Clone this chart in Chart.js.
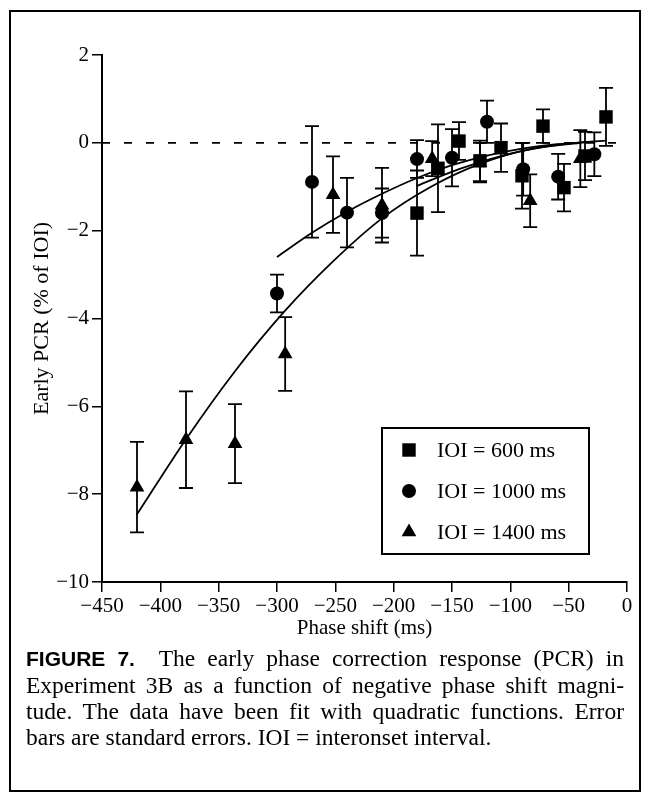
<!DOCTYPE html>
<html>
<head>
<meta charset="utf-8">
<script src="https://cdn.jsdelivr.net/npm/chart.js@4.4.0/dist/chart.umd.min.js"></script>
<style>
  html, body { margin: 0; padding: 0; background: #fff; }
  #frame { position: absolute; left: 9px; top: 10px; width: 628px; height: 778px; border: 2px solid #000; }
  #plot { position: absolute; left: 0; top: 0; }
  #caption { position: absolute; left: 26px; top: 645px; width: 598px; font-family: "Liberation Serif", serif; font-size: 23.5px; line-height: 26px; color: #000; }
  #caption div { text-align: justify; text-align-last: justify; white-space: nowrap; }
  #caption div.last { text-align-last: left; }
  #caption b { font-family: "Liberation Sans", Arial, sans-serif; font-size: 21px; }
</style>
</head>
<body>
<div id="frame"></div>
<canvas id="plot" width="649" height="650"></canvas>
<div id="caption">
  <div><b>FIGURE 7.</b>&nbsp; The early phase correction response (PCR) in</div>
  <div>Experiment 3B as a function of negative phase shift magni-</div>
  <div>tude. The data have been fit with quadratic functions. Error</div>
  <div class="last">bars are standard errors. IOI = interonset interval.</div>
</div>
<script>
// --- Data ---
const seriesLabels = ["IOI = 600 ms", "IOI = 1000 ms", "IOI = 1400 ms"];

const ioi600X = [-180, -162, -144, -126, -108, -90, -72, -54, -36, -18];
const ioi600Y = [-1.60, -0.58, 0.04, -0.41, -0.11, -0.75, 0.38, -1.02, -0.30, 0.59];
const ioi600Err = [0.97, 1.00, 0.43, 0.46, 0.55, 0.75, 0.38, 0.54, 0.55, 0.66];

const ioi1000X = [-300, -270, -240, -210, -180, -150, -120, -89, -59, -28];
const ioi1000Y = [-3.43, -0.89, -1.59, -1.60, -0.37, -0.34, 0.48, -0.60, -0.77, -0.26];
const ioi1000Err = [0.43, 1.27, 0.79, 0.56, 0.43, 0.65, 0.48, 0.60, 0.52, 0.50];

const ioi1400X = [-420, -378, -336, -293, -252, -210, -167, -126, -83, -40];
const ioi1400Y = [-7.84, -6.76, -6.85, -4.81, -1.18, -1.42, -0.36, -0.45, -1.32, -0.36];
const ioi1400Err = [1.03, 1.10, 0.90, 0.84, 0.87, 0.85, 0.40, 0.45, 0.60, 0.65];

// fitted quadratic curves
const fit600X = [-180, -144, -108, -72, -36, -18];
const fit600Y = [-0.98, -0.60, -0.30, -0.10, 0.02, 0.05];
const fit1000X = [-300, -270, -240, -210, -180, -150, -120, -90, -60, -28];
const fit1000Y = [-2.60, -2.05, -1.57, -1.16, -0.80, -0.51, -0.29, -0.13, -0.03, 0.02];
const fit1400X = [-420, -378, -336, -294, -252, -210, -168, -126, -84, -40];
const fit1400Y = [-8.46, -6.75, -5.20, -3.85, -2.70, -1.72, -1.00, -0.48, -0.15, 0.00];

const zeroLineX = [-450, 0];
const zeroLineY = [0, 0];

const xTickValues = [-450, -400, -350, -300, -250, -200, -150, -100, -50, 0];
const yTickValues = [-10, -8, -6, -4, -2, 0, 2];

// --- helpers ---
const toPoints = (xs, ys) => xs.map((x, i) => ({ x: x, y: ys[i] }));
const minus = v => (v < 0 ? "\u2212" + Math.abs(v) : String(v));

Chart.defaults.color = "#000";
Chart.defaults.font.family = "'Liberation Serif', 'Times New Roman', serif";

// error bars go under the markers
const errorBarPlugin = {
    id: "errorBars",
    beforeDatasetsDraw(chart) {
        const ctx = chart.ctx;
        const yScale = chart.scales.y;
        ctx.save();
        ctx.strokeStyle = "#000";
        ctx.lineWidth = 1.8;
        chart.data.datasets.forEach((ds, i) => {
            if (!ds.errors) return;
            const meta = chart.getDatasetMeta(i);
            meta.data.forEach((pt, j) => {
                const v = ds.data[j].y, e = ds.errors[j];
                const top = yScale.getPixelForValue(v + e);
                const bot = yScale.getPixelForValue(v - e);
                ctx.beginPath();
                ctx.moveTo(pt.x, top); ctx.lineTo(pt.x, bot);
                ctx.moveTo(pt.x - 7, top); ctx.lineTo(pt.x + 7, top);
                ctx.moveTo(pt.x - 7, bot); ctx.lineTo(pt.x + 7, bot);
                ctx.stroke();
            });
        });
        ctx.restore();
    }
};

// boxed legend inside the plot area
const boxLegendPlugin = {
    id: "boxLegend",
    afterDraw(chart) {
        const ctx = chart.ctx;
        const a = chart.chartArea;
        const bx = a.left + 280, by = 428, bw = 207, bh = 126;
        ctx.save();
        ctx.fillStyle = "#fff";
        ctx.fillRect(bx, by, bw, bh);
        ctx.strokeStyle = "#000";
        ctx.lineWidth = 2;
        ctx.strokeRect(bx, by, bw, bh);
        ctx.fillStyle = "#000";
        ctx.font = "22px 'Liberation Serif', serif";
        ctx.textBaseline = "middle";
        seriesLabels.forEach((label, k) => {
            const ds = chart.data.datasets[k];
            const cy = by + 22 + k * 41;
            Chart.helpers.drawPoint(ctx, { pointStyle: ds.pointStyle, radius: ds.pointRadius, rotation: 0, borderWidth: 0 }, bx + 27, cy);
            ctx.fillText(label, bx + 55, cy + 1);
        });
        ctx.restore();
    }
};

const markerCommon = { showLine: false, backgroundColor: "#000", borderColor: "#000", borderWidth: 0 };
const fitCommon = { showLine: true, pointRadius: 0, borderColor: "#000", borderWidth: 1.8, cubicInterpolationMode: "monotone", fill: false };

new Chart(document.getElementById("plot"), {
    type: "scatter",
    data: {
        datasets: [
            { ...markerCommon, label: seriesLabels[0], data: toPoints(ioi600X, ioi600Y), errors: ioi600Err, pointStyle: "rect", pointRadius: 9.5 },
            { ...markerCommon, label: seriesLabels[1], data: toPoints(ioi1000X, ioi1000Y), errors: ioi1000Err, pointStyle: "circle", pointRadius: 7 },
            { ...markerCommon, label: seriesLabels[2], data: toPoints(ioi1400X, ioi1400Y), errors: ioi1400Err, pointStyle: "triangle", pointRadius: 8.5 },
            { ...fitCommon, data: toPoints(fit600X, fit600Y) },
            { ...fitCommon, data: toPoints(fit1000X, fit1000Y) },
            { ...fitCommon, data: toPoints(fit1400X, fit1400Y) },
            { ...fitCommon, data: toPoints(zeroLineX, zeroLineY), borderWidth: 1.6, borderDash: [8, 14], cubicInterpolationMode: "default" }
        ]
    },
    options: {
        responsive: false,
        animation: false,
        layout: { padding: { left: 10, right: 22, top: 55, bottom: 0 } },
        plugins: { legend: { display: false }, tooltip: { enabled: false } },
        elements: { point: { hoverRadius: 0 } },
        scales: {
            x: {
                type: "linear", min: -450, max: 0,
                afterBuildTicks: s => { s.ticks = xTickValues.map(v => ({ value: v })); },
                afterFit: s => { s.height = 68; },
                ticks: { callback: minus, font: { size: 21 }, padding: 2, maxRotation: 0, autoSkip: false },
                grid: { drawOnChartArea: false, drawTicks: true, tickLength: 10, color: "#000", lineWidth: 1.5 },
                border: { display: true, color: "#000", width: 2 },
                title: { display: true, text: "Phase shift (ms)", font: { size: 21 }, padding: { top: 0, bottom: 9 } }
            },
            y: {
                type: "linear", min: -10, max: 2,
                afterBuildTicks: s => { s.ticks = yTickValues.map(v => ({ value: v })); },
                afterFit: s => { s.width = 92; },
                ticks: { callback: minus, font: { size: 21 }, padding: 3, autoSkip: false },
                grid: { drawOnChartArea: false, drawTicks: true, tickLength: 10, color: "#000", lineWidth: 1.5 },
                border: { display: true, color: "#000", width: 2 },
                title: { display: true, text: "Early PCR (% of IOI)", font: { size: 22 }, padding: { top: 19, bottom: 0 } }
            }
        }
    },
    plugins: [errorBarPlugin, boxLegendPlugin]
});
</script>
</body>
</html>
